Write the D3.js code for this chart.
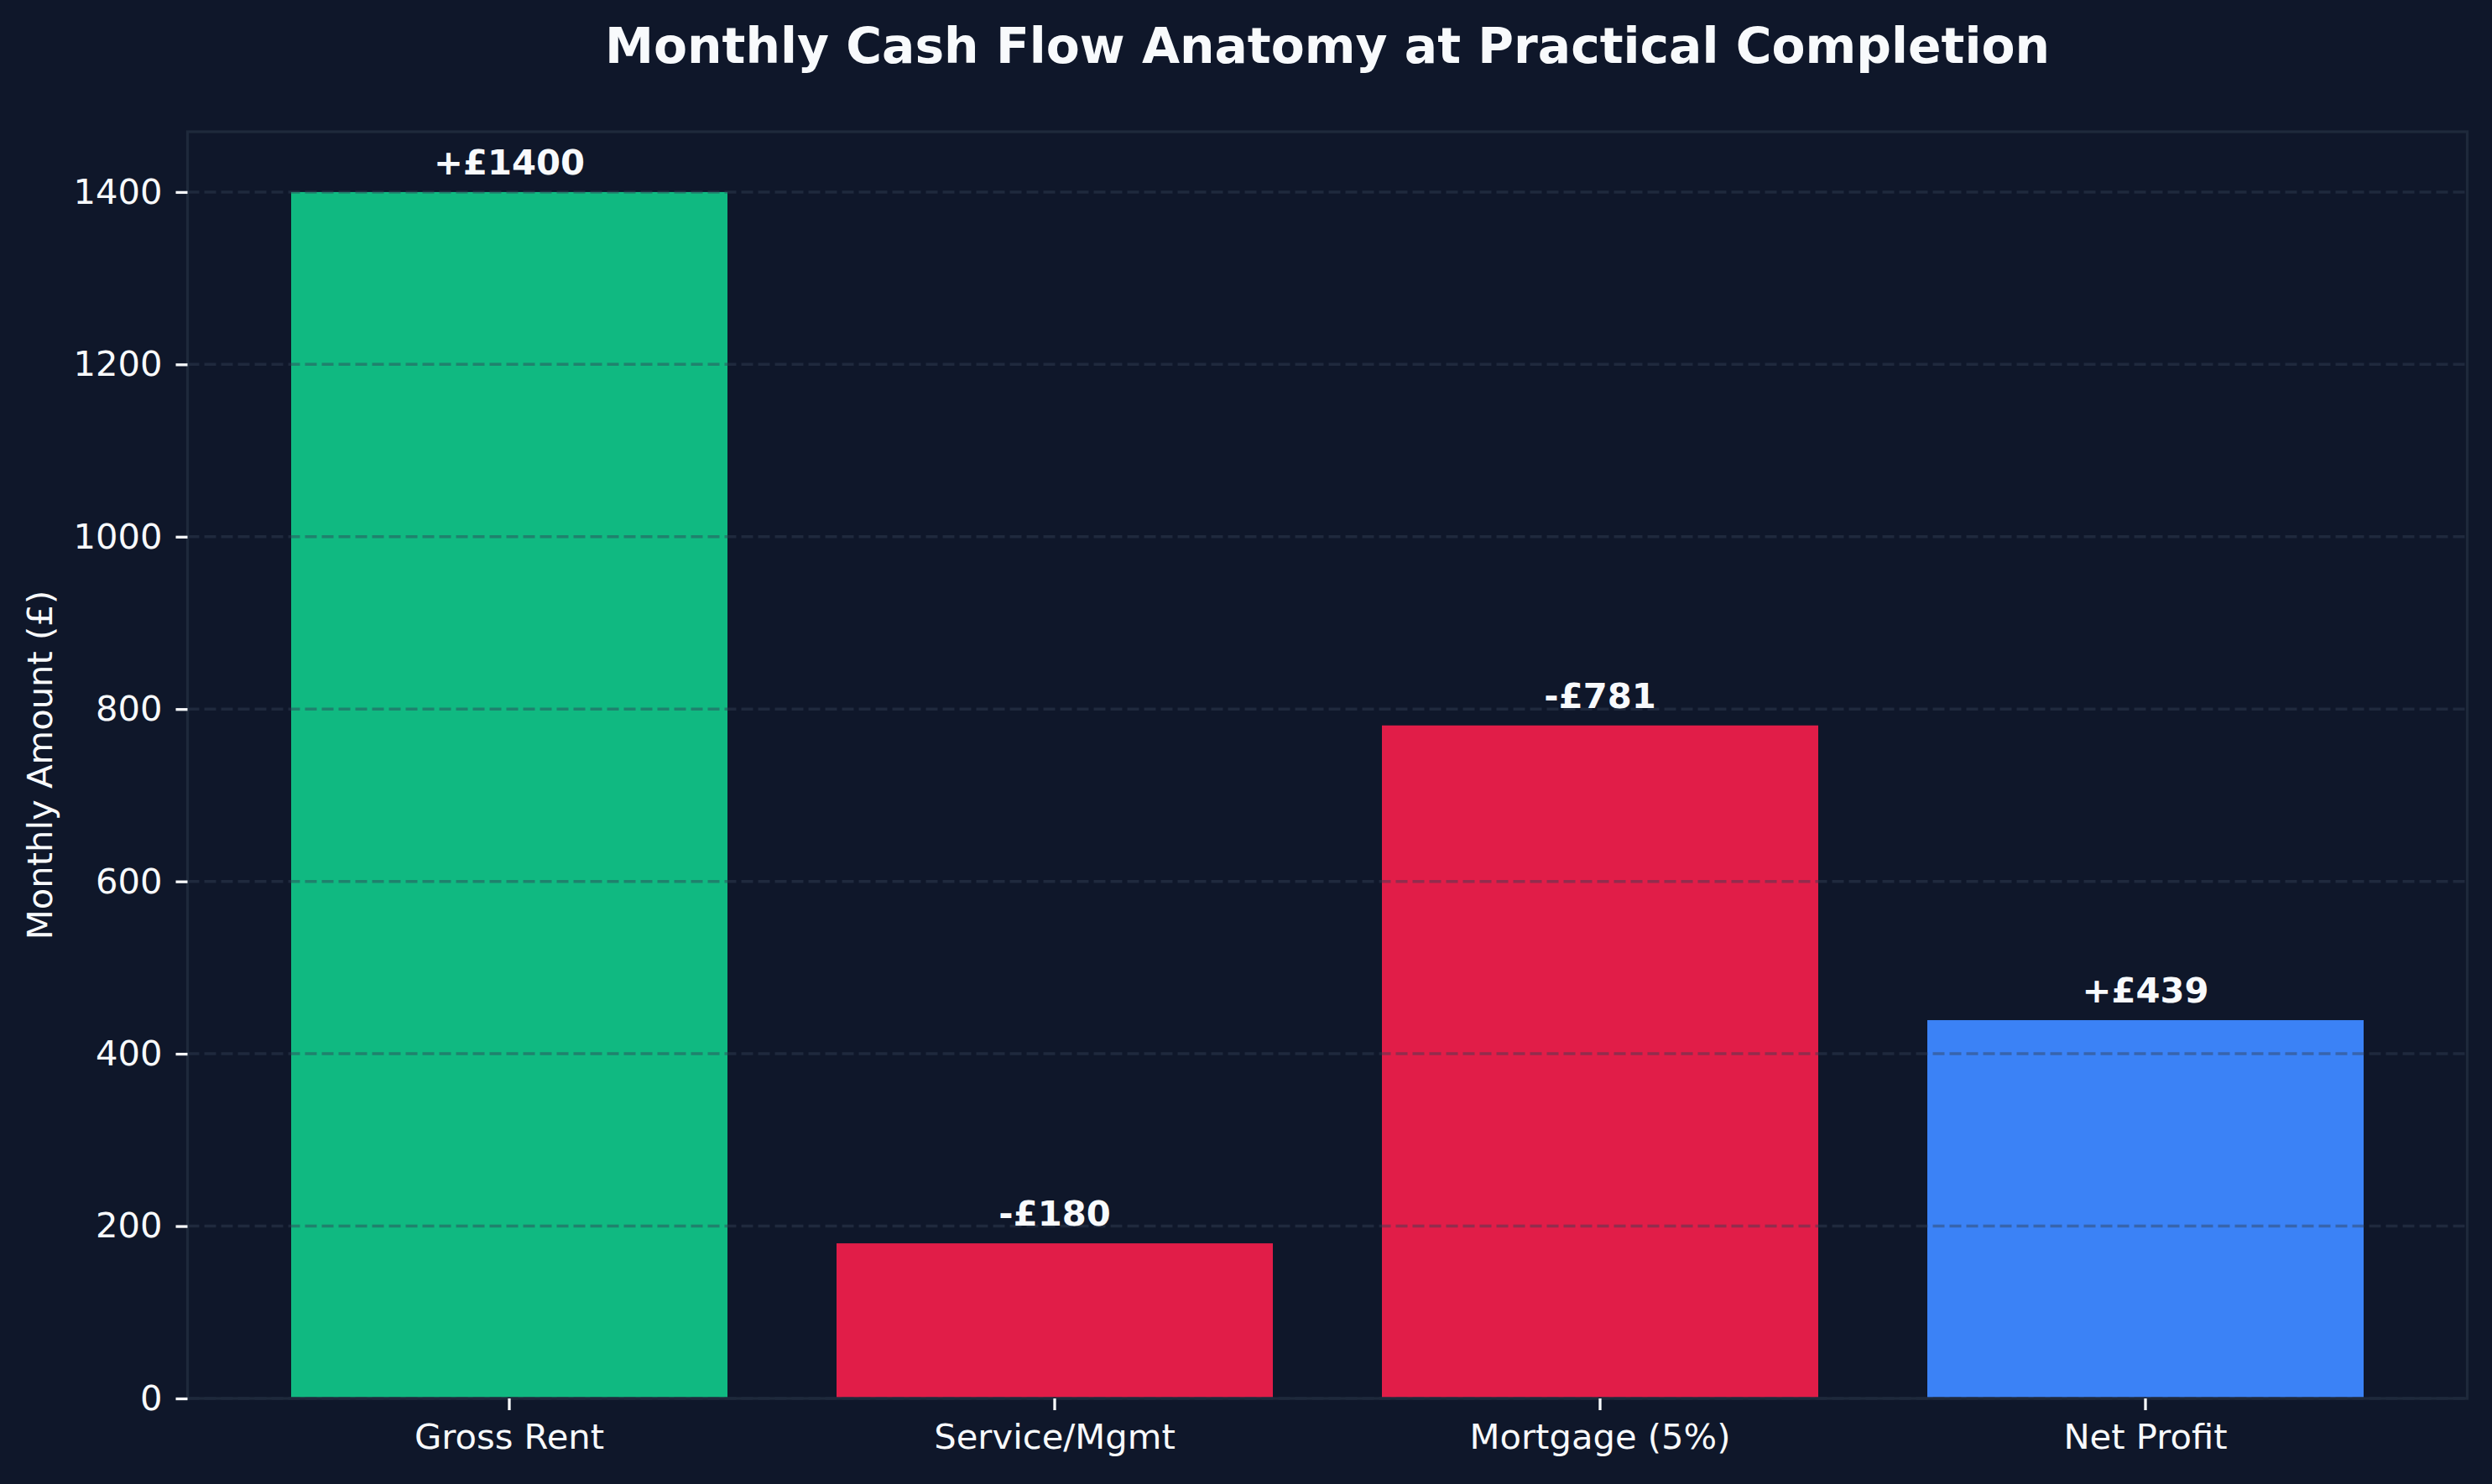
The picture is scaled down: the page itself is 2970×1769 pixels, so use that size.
<html>
  <meta charset="utf-8" />
  <script src="https://d3js.org/d3.v7.min.js"></script>
  <style>
    body { margin: 0; background: #0f172a; }
    text { font-family: "DejaVu Sans", sans-serif; }
  </style>
  <body>
    <svg width="2970" height="1769" id="chart"></svg>
    <script>
      // chart data
      const categories = ["Gross Rent", "Service/Mgmt", "Mortgage (5%)", "Net Profit"];
      const amounts = [1400, 180, 781, 439];
      const barLabels = ["+£1400", "-£180", "-£781", "+£439"];
      const barColors = ["#10b981", "#e11d48", "#e11d48", "#3b82f6"];
      const yTicks = [0, 200, 400, 600, 800, 1000, 1200, 1400];

      const W = 2970, H = 1769;
      const plotLeft = 223.5, plotRight = 2940.5, plotTop = 157, plotBottom = 1667;
      const bg = "#0f172a";
      const textCol = "#f8fafc";
      const spineCol = "#1e293b";

      const svg = d3.select("#chart");
      svg.append("rect").attr("width", W).attr("height", H).attr("fill", bg);

      const x = d3.scaleBand()
        .domain(categories)
        .range([plotLeft, plotRight])
        .paddingInner(0.2)
        .paddingOuter(0.19);

      const y = d3.scaleLinear().domain([0, 1470]).range([plotBottom, plotTop]);

      // bars
      svg.append("g")
        .selectAll("rect")
        .data(categories)
        .enter()
        .append("rect")
        .attr("x", (d) => x(d))
        .attr("y", (d, i) => y(amounts[i]))
        .attr("width", x.bandwidth())
        .attr("height", (d, i) => y(0) - y(amounts[i]))
        .attr("fill", (d, i) => barColors[i]);

      // dashed grid, drawn above the bars
      svg.append("g")
        .selectAll("line")
        .data(yTicks)
        .enter()
        .append("line")
        .attr("x1", plotLeft)
        .attr("x2", plotRight)
        .attr("y1", (d) => y(d))
        .attr("y2", (d) => y(d))
        .attr("stroke", "#334155")
        .attr("stroke-opacity", 0.45)
        .attr("stroke-width", 3.5)
        .attr("stroke-dasharray", "14,6");

      // spines
      svg.append("rect")
        .attr("x", plotLeft)
        .attr("y", plotTop)
        .attr("width", plotRight - plotLeft)
        .attr("height", plotBottom - plotTop)
        .attr("fill", "none")
        .attr("stroke", spineCol)
        .attr("stroke-width", 3.3);

      // y axis
      const yAxis = svg.append("g")
        .attr("transform", `translate(${plotLeft},0)`)
        .call(d3.axisLeft(y).tickValues(yTicks).tickFormat(d3.format("d")).tickSize(14).tickPadding(16));
      yAxis.select(".domain").remove();
      yAxis.selectAll(".tick line").attr("stroke", textCol).attr("stroke-width", 3.3);
      yAxis.selectAll(".tick text")
        .attr("fill", textCol)
        .attr("font-size", 41.7)
        .attr("font-family", "DejaVu Sans");

      // x axis
      const xAxis = svg.append("g")
        .attr("transform", `translate(0,${plotBottom})`)
        .call(d3.axisBottom(x).tickSize(14).tickPadding(16));
      xAxis.select(".domain").remove();
      xAxis.selectAll(".tick line").attr("stroke", textCol).attr("stroke-width", 3.3);
      xAxis.selectAll(".tick text")
        .attr("fill", textCol)
        .attr("font-size", 41.7)
        .attr("font-family", "DejaVu Sans");

      // value labels
      svg.append("g")
        .selectAll("text")
        .data(categories)
        .enter()
        .append("text")
        .attr("x", (d) => x(d) + x.bandwidth() / 2)
        .attr("y", (d, i) => y(amounts[i]) - 21)
        .attr("text-anchor", "middle")
        .attr("fill", textCol)
        .attr("font-size", 41.7)
        .attr("font-weight", "bold")
        .text((d, i) => barLabels[i]);

      // y label
      svg.append("text")
        .attr("transform", `translate(62, ${(plotTop + plotBottom) / 2}) rotate(-90)`)
        .attr("text-anchor", "middle")
        .attr("fill", textCol)
        .attr("font-size", 41.7)
        .text("Monthly Amount (£)");

      // title
      svg.append("text")
        .attr("x", (plotLeft + plotRight) / 2)
        .attr("y", 75)
        .attr("text-anchor", "middle")
        .attr("fill", textCol)
        .attr("font-size", 58.3)
        .attr("font-weight", "bold")
        .text("Monthly Cash Flow Anatomy at Practical Completion");
    </script>
  </body>
</html>
